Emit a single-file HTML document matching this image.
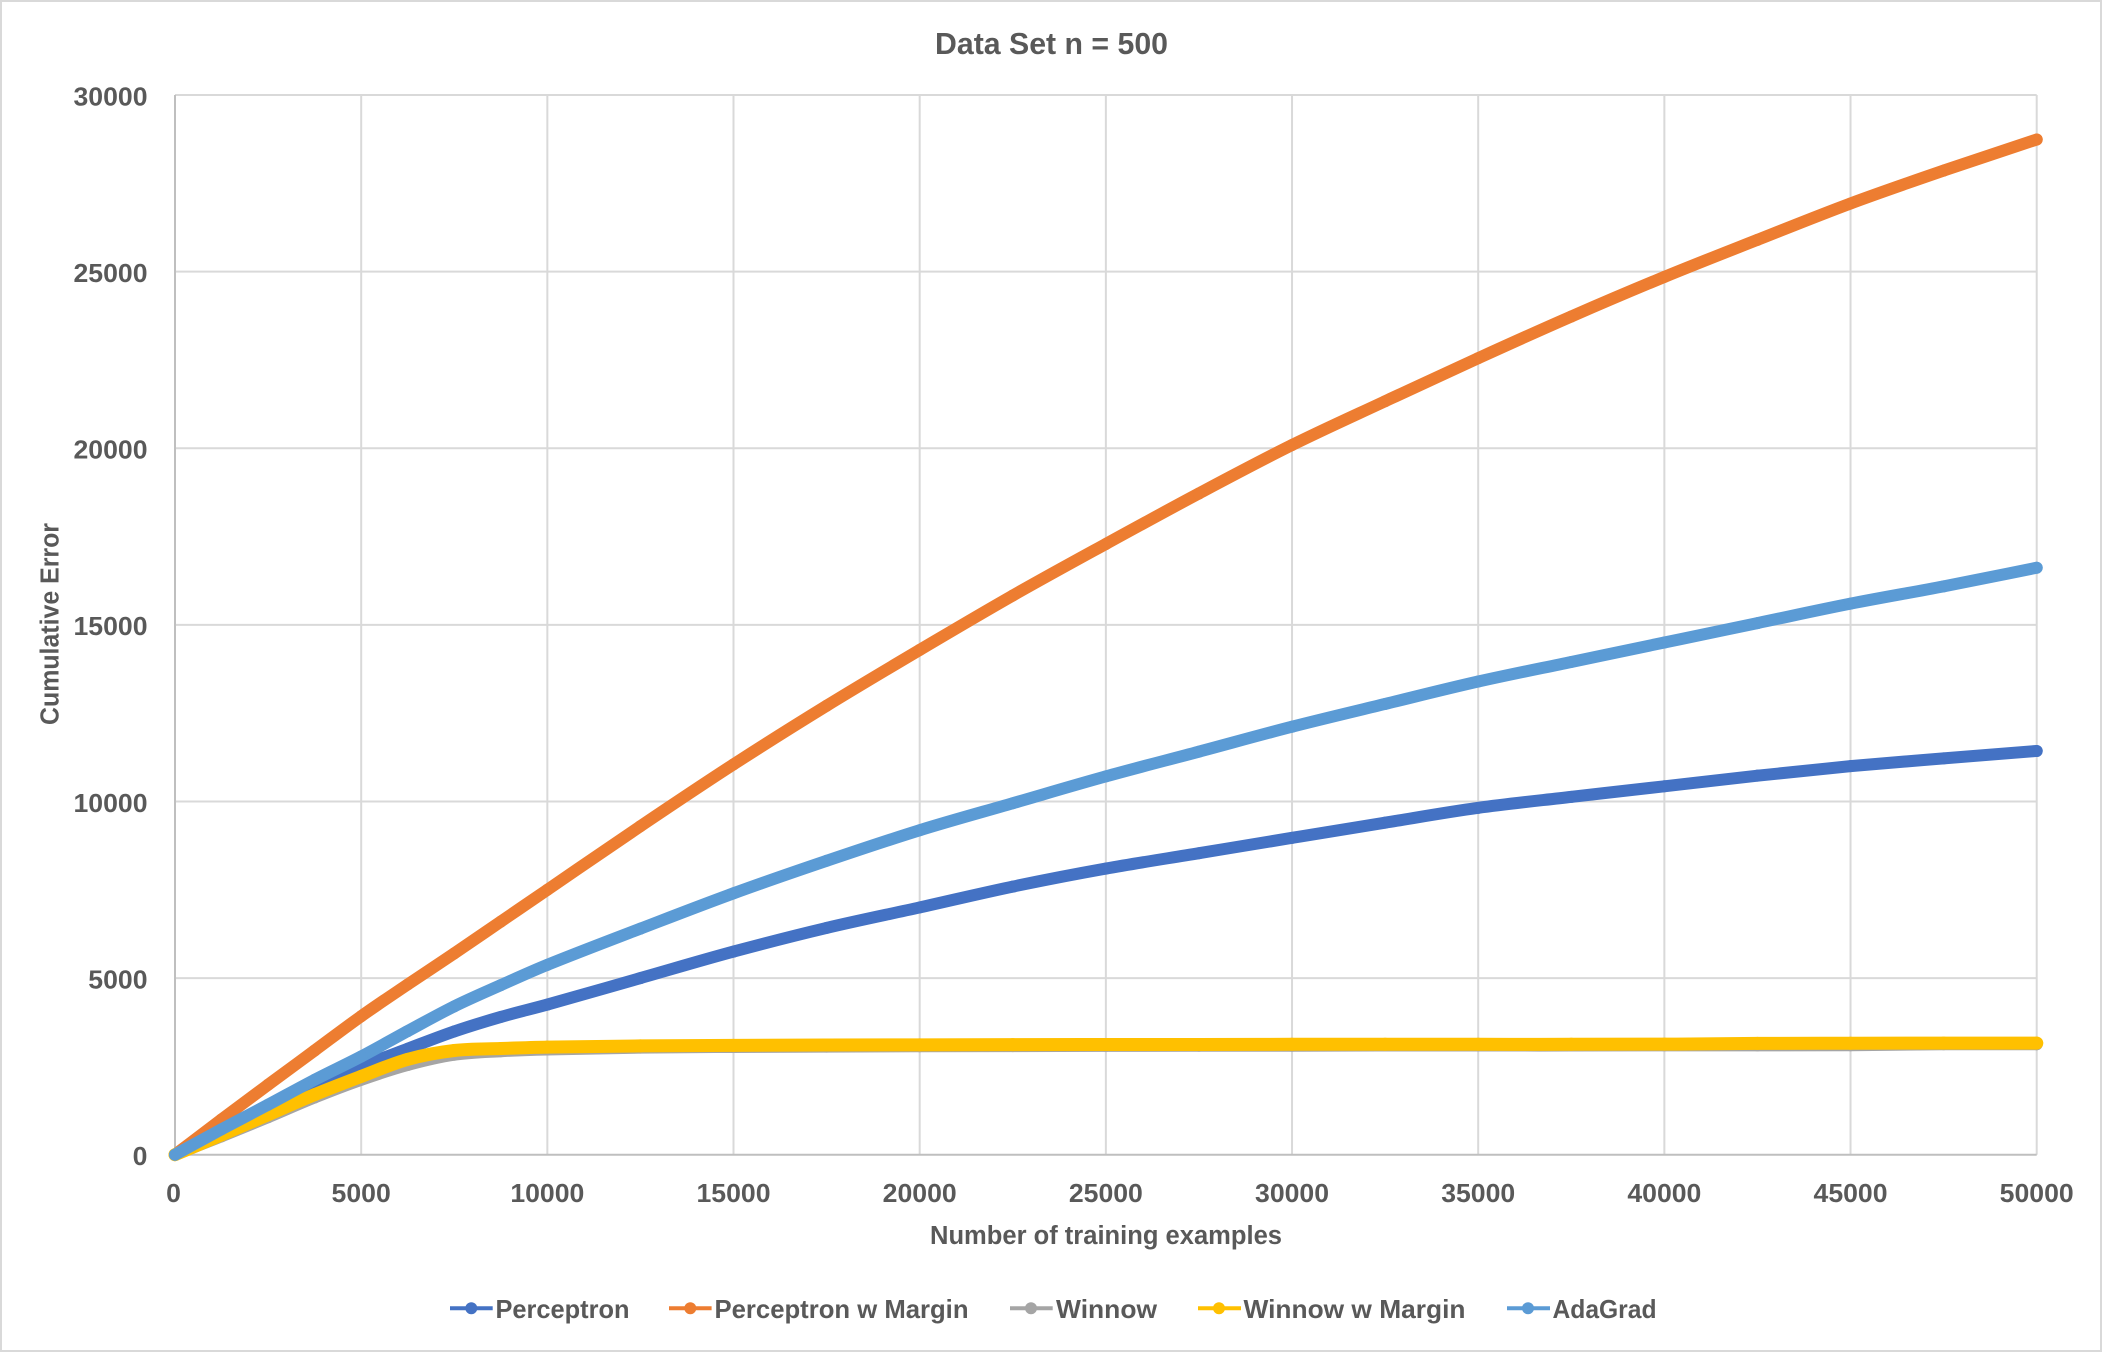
<!DOCTYPE html>
<html lang="en">
<head>
<meta charset="utf-8">
<title>Data Set n = 500</title>
<style>
  html, body { margin: 0; padding: 0; background: #fff; }
  body { width: 2102px; height: 1352px; overflow: hidden; }
  svg { display: block; }
  text { font-family: "Liberation Sans", sans-serif; font-weight: bold; fill: #595959; }
</style>
</head>
<body>
<svg id="chart" xmlns="http://www.w3.org/2000/svg" width="2102" height="1352" viewBox="0 0 2102 1352">
  <rect x="1" y="1" width="2100" height="1350" fill="#fff" stroke="#d9d9d9" stroke-width="2"/>
  <text x="935" y="54" font-size="31" textLength="233" lengthAdjust="spacingAndGlyphs">Data Set n = 500</text>
  <g id="grid"></g>
  <g id="axes"></g>
  <g id="series"></g>
  <g id="ticks"></g>
  <text x="930" y="1244" font-size="25.5" textLength="352" lengthAdjust="spacingAndGlyphs">Number of training examples</text>
  <text transform="translate(58.5 725) rotate(-90)" x="0" y="0" font-size="25.5" textLength="202" lengthAdjust="spacingAndGlyphs">Cumulative Error</text>
  <g id="legend">
    <g>
      <line x1="450" y1="1308.3" x2="492.7" y2="1308.3" stroke="#4472C4" stroke-width="4"/>
      <circle cx="471.3" cy="1308.3" r="6" fill="#4472C4"/>
      <text x="495.5" y="1318" font-size="26" textLength="134" lengthAdjust="spacingAndGlyphs">Perceptron</text>
    </g>
    <g>
      <line x1="669" y1="1308.3" x2="711.6" y2="1308.3" stroke="#ED7D31" stroke-width="4"/>
      <circle cx="690.3" cy="1308.3" r="6" fill="#ED7D31"/>
      <text x="714.5" y="1318" font-size="26" textLength="254" lengthAdjust="spacingAndGlyphs">Perceptron w Margin</text>
    </g>
    <g>
      <line x1="1010" y1="1308.3" x2="1052.7" y2="1308.3" stroke="#A5A5A5" stroke-width="4"/>
      <circle cx="1031" cy="1308.3" r="6" fill="#A5A5A5"/>
      <text x="1056" y="1318" font-size="26" textLength="101" lengthAdjust="spacingAndGlyphs">Winnow</text>
    </g>
    <g>
      <line x1="1198" y1="1308.3" x2="1241" y2="1308.3" stroke="#FFC000" stroke-width="4"/>
      <circle cx="1219" cy="1308.3" r="6" fill="#FFC000"/>
      <text x="1243.5" y="1318" font-size="26" textLength="222" lengthAdjust="spacingAndGlyphs">Winnow w Margin</text>
    </g>
    <g>
      <line x1="1507" y1="1308.3" x2="1550" y2="1308.3" stroke="#5B9BD5" stroke-width="4"/>
      <circle cx="1528" cy="1308.3" r="6" fill="#5B9BD5"/>
      <text x="1552.5" y="1318" font-size="26" textLength="104" lengthAdjust="spacingAndGlyphs">AdaGrad</text>
    </g>
  </g>
</svg>
<script>
const xValues = [0,1250,2500,3750,5000,6250,7500,8750,10000,12500,15000,17500,20000,22500,25000,27500,30000,32500,35000,37500,40000,42500,45000,47500,50000];
const perceptron = [0,700,1340,1950,2500,3000,3490,3900,4250,5000,5750,6420,7000,7590,8100,8535,8970,9400,9820,10130,10430,10730,11000,11220,11430];
const perceptronMargin = [0,1000,1980,2950,3920,4820,5700,6600,7500,9300,11050,12710,14290,15830,17290,18720,20090,21330,22550,23730,24850,25900,26930,27860,28740];
const winnow = [0,520,1060,1620,2120,2540,2830,2930,2980,3030,3050,3060,3070,3075,3080,3085,3085,3090,3090,3090,3095,3095,3100,3125,3125];
const winnowMargin = [0,560,1130,1700,2216,2700,2950,3005,3045,3080,3095,3105,3110,3115,3120,3120,3125,3125,3125,3125,3130,3150,3155,3160,3160];
const adaGrad = [0,720,1415,2120,2780,3500,4200,4800,5375,6400,7400,8320,9186,9950,10710,11410,12116,12760,13395,13950,14500,15050,15600,16090,16617];
const xTickLabels = [0,5000,10000,15000,20000,25000,30000,35000,40000,45000,50000];
const yTickLabels = [0,5000,10000,15000,20000,25000,30000];

const SVG_NS = 'http://www.w3.org/2000/svg';
const plotLeft = 175, plotRight = 2036.7, plotTop = 95, plotBottom = 1154.7;
const xMax = 50000, yMax = 30000;
function xScale(v) { return plotLeft + (v / xMax) * (plotRight - plotLeft); }
function yScale(v) { return plotBottom - (v / yMax) * (plotBottom - plotTop); }
function make(tag, parent) {
  const el = document.createElementNS(SVG_NS, tag);
  parent.appendChild(el);
  return el;
}
function setLine(el, x1, y1, x2, y2, color) {
  el.setAttribute('x1', x1);
  el.setAttribute('y1', y1);
  el.setAttribute('x2', x2);
  el.setAttribute('y2', y2);
  el.setAttribute('stroke', color);
  el.setAttribute('stroke-width', 2);
}

const gridGroup = document.getElementById('grid');
const axesGroup = document.getElementById('axes');
const ticksGroup = document.getElementById('ticks');
const seriesGroup = document.getElementById('series');

xTickLabels.forEach(function (t) {
  const px = xScale(t);
  if (t !== 0) {
    const g = make('line', gridGroup);
    
    
    setLine(g, px, plotTop, px, plotBottom, '#d9d9d9');
  }
  const label = make('text', ticksGroup);
  
  
  const width = String(t).length * 14.8;
  label.setAttribute('x', px - width / 2 - (t === 0 ? 1.5 : 0));
  label.setAttribute('y', 1202);
  label.setAttribute('font-size', 26);
  label.setAttribute('textLength', width);
  label.setAttribute('lengthAdjust', 'spacingAndGlyphs');
  label.textContent = t;
});

yTickLabels.forEach(function (t) {
  const py = yScale(t);
  if (t !== 0) {
    const g = make('line', gridGroup);
    
    
    setLine(g, plotLeft, py, plotRight, py, '#d9d9d9');
  }
  const label = make('text', ticksGroup);
  
  
  const width = String(t).length * 14.8;
  label.setAttribute('x', 147.5 - width);
  label.setAttribute('y', py + 10.3);
  label.setAttribute('font-size', 26);
  label.setAttribute('textLength', width);
  label.setAttribute('lengthAdjust', 'spacingAndGlyphs');
  label.textContent = t;
});

const xAxisLine = make('line', axesGroup);


setLine(xAxisLine, plotLeft, plotBottom, plotRight, plotBottom, '#bfbfbf');

const yAxisLine = make('line', axesGroup);


setLine(yAxisLine, plotLeft, plotTop, plotLeft, plotBottom, '#bfbfbf');

function smoothPath(values) {
  const px = xValues.map(xScale);
  const py = values.map(yScale);
  const last = px.length - 1;
  const slope = px.map(function (_, i) {
    const a = Math.max(i - 1, 0);
    const b = Math.min(i + 1, last);
    return (py[b] - py[a]) / (px[b] - px[a]);
  });
  let d = 'M' + px[0].toFixed(2) + ' ' + py[0].toFixed(2);
  for (let i = 0; i < last; i++) {
    const h = (px[i + 1] - px[i]) / 3;
    d += ' C' + (px[i] + h).toFixed(2) + ' ' + (py[i] + slope[i] * h).toFixed(2) +
         ' ' + (px[i + 1] - h).toFixed(2) + ' ' + (py[i + 1] - slope[i + 1] * h).toFixed(2) +
         ' ' + px[i + 1].toFixed(2) + ' ' + py[i + 1].toFixed(2);
  }
  return d;
}

function drawSeries(name, values, color, width) {
  const group = make('g', seriesGroup);
  
  
  const line = make('path', group);
  
  
  line.setAttribute('d', smoothPath(values));
  line.setAttribute('fill', 'none');
  line.setAttribute('stroke', color);
  line.setAttribute('stroke-width', width);
  line.setAttribute('stroke-linejoin', 'round');
  line.setAttribute('stroke-linecap', 'round');
  values.forEach(function (v, i) {
    const point = make('circle', group);
    
    
    point.setAttribute('cx', xScale(xValues[i]).toFixed(2));
    point.setAttribute('cy', yScale(v).toFixed(2));
    point.setAttribute('r', width / 2);
    point.setAttribute('fill', color);
  });
}

drawSeries('perceptron-series', perceptron, '#4472C4', 12);
drawSeries('perceptron-margin-series', perceptronMargin, '#ED7D31', 12);
drawSeries('winnow-series', winnow, '#A5A5A5', 12);
drawSeries('winnow-margin-series', winnowMargin, '#FFC000', 13);
drawSeries('adagrad-series', adaGrad, '#5B9BD5', 12);
</script>
</body>
</html>
